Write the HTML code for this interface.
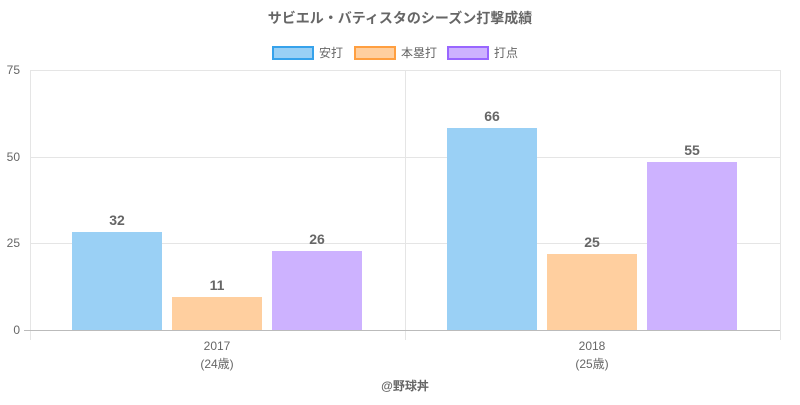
<!DOCTYPE html>
<html><head><meta charset="utf-8"><style>
body{margin:0;background:#fff;}
svg text{font-family:"Liberation Sans","Noto Sans CJK JP",sans-serif;}
</style></head><body>
<svg width="800" height="400" xmlns="http://www.w3.org/2000/svg">
<rect width="800" height="400" fill="#fff"/>
<text x="400" y="23" text-anchor="middle" font-size="14" font-weight="bold" fill="#666">サビエル・バティスタのシーズン打撃成績</text>
<rect x="273" y="47" width="40" height="12" fill="#9ad0f5" stroke="#36a2eb" stroke-width="2"/>
<text x="319" y="57" font-size="12" fill="#666">安打</text>
<rect x="355" y="47" width="40" height="12" fill="#ffcf9f" stroke="#ff9f40" stroke-width="2"/>
<text x="401" y="57" font-size="12" fill="#666">本塁打</text>
<rect x="448" y="47" width="40" height="12" fill="#cdb2ff" stroke="#9966ff" stroke-width="2"/>
<text x="494" y="57" font-size="12" fill="#666">打点</text>
<g stroke="#e5e5e5" stroke-width="1">
<line x1="30" y1="70.5" x2="780" y2="70.5"/>
<line x1="30" y1="157.5" x2="780" y2="157.5"/>
<line x1="30" y1="243.5" x2="780" y2="243.5"/>
<line x1="30.5" y1="70" x2="30.5" y2="340"/>
<line x1="405.5" y1="70" x2="405.5" y2="340"/>
<line x1="780.5" y1="70" x2="780.5" y2="340"/>
</g>
<line x1="24" y1="330.5" x2="780" y2="330.5" stroke="#bbb"/>
<g font-size="12" fill="#666" text-anchor="end">
<text x="20" y="74">75</text><text x="20" y="161">50</text><text x="20" y="247">25</text><text x="20" y="334">0</text>
</g>
<rect x="72" y="232" width="90" height="98" fill="#9ad0f5"/>
<rect x="172" y="297" width="90" height="33" fill="#ffcf9f"/>
<rect x="272" y="251" width="90" height="79" fill="#cdb2ff"/>
<rect x="447" y="128" width="90" height="202" fill="#9ad0f5"/>
<rect x="547" y="254" width="90" height="76" fill="#ffcf9f"/>
<rect x="647" y="162" width="90" height="168" fill="#cdb2ff"/>
<g font-size="14" font-weight="bold" fill="#666" text-anchor="middle">
<text x="117" y="225">32</text><text x="217" y="290">11</text><text x="317" y="244">26</text>
<text x="492" y="121">66</text><text x="592" y="247">25</text><text x="692" y="155">55</text>
</g>
<g font-size="12" fill="#666" text-anchor="middle">
<text x="217" y="350">2017</text><text x="217" y="368">(24歳)</text>
<text x="592" y="350">2018</text><text x="592" y="368">(25歳)</text>
</g>
<text x="405" y="390" text-anchor="middle" font-size="12" font-weight="bold" fill="#666">@野球丼</text>
</svg>
</body></html>
